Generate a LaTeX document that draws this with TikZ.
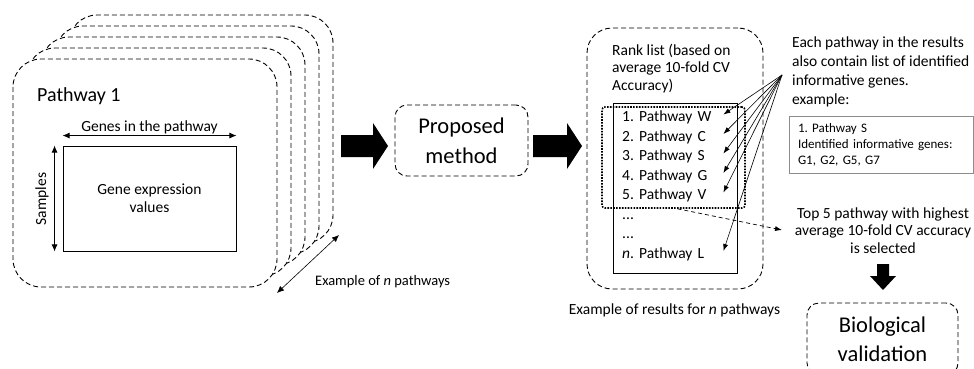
\documentclass[tikz,border=0pt]{standalone}
\usepackage{fontspec}
\setmainfont{Carlito}
\usetikzlibrary{arrows.meta}
\frenchspacing
\begin{document}
\begin{tikzpicture}[x=1pt,y=-1pt,
  card/.style={draw, dash pattern=on 5pt off 3pt, line width=0.9pt, rounded corners=28pt, fill=white},
  dbox/.style={draw, dash pattern=on 5pt off 3pt, line width=0.9pt},
  txt/.style={inner sep=0pt, font=\fontsize{15.5}{19}\selectfont},
  itemtxt/.style={inner sep=0pt, anchor=base west, text width=101pt, align=left, font=\fontsize{15.5}{19}\selectfont},
  thinarrow/.style={line width=0.6pt, -{Latex[length=7pt,width=5pt]}},
  dblarrow/.style={line width=0.8pt, {Latex[length=7pt,width=6pt]}-{Latex[length=7pt,width=6pt]}},
]
\useasboundingbox (0,0) rectangle (974,369);

% stack of pathway cards
\foreach \k in {4,3,2,1,0} {
  \draw[card] ({13+14*\k},{59-11*\k}) rectangle ({277+14*\k},{287-11*\k});
}
\node[inner sep=0pt, anchor=west, font=\fontsize{20}{24}\selectfont] (p1) at (37,96) {Pathway 1};
\node[draw, line width=0.9pt, minimum width=173pt, minimum height=105pt, inner sep=0pt,
      align=center, font=\fontsize{15.5}{18}\selectfont] (mat) at (149.5,198.5) {Gene expression\\values};
\draw[dblarrow] ([yshift=10pt]mat.north west) -- ([yshift=10pt]mat.north east);
\node[txt] (genes) at (149.5,127) {Genes in the pathway};
\draw[dblarrow] ([xshift=-8pt]mat.north west) -- ([xshift=-8pt]mat.south west);
\node[txt, rotate=90] (samples) at (42,199) {Samples};

\coordinate (ea1) at (277,293);
\coordinate (ea2) at (339,235);
\draw[dblarrow, line width=0.6pt] (ea1) -- (ea2);
\node[txt, anchor=west, font=\fontsize{14.5}{18}\selectfont] (exn) at (315,282) {Example of \textit{n} pathways};

% big arrows
\fill (341,135) -- (373,135) -- (373,123) -- (388,146) -- (373,169) -- (373,157) -- (341,157) -- cycle;
\node[dbox, rounded corners=12pt, minimum width=133pt, minimum height=71pt, align=center,
      font=\fontsize{22.5}{30}\selectfont] (pm) at (461.5,140.5) {Proposed\\method};
\fill (533,135) -- (567,135) -- (567,123) -- (582,146) -- (567,169) -- (567,157) -- (533,157) -- cycle;

% rank list
\node[dbox, rounded corners=25pt, minimum width=176pt, minimum height=261pt] (rank) at (675,158.5) {};
\node[txt, anchor=west, align=left, font=\fontsize{15.5}{17.5}\selectfont] (ranktitle) at (612,68.5)
  {Rank list (based on\\average 10-fold CV\\Accuracy)};
\node[draw, line width=0.9pt, minimum width=124pt, minimum height=170pt, inner sep=0pt] (list) at (675,188) {};
\node[draw, line width=1.6pt, dash pattern=on 1.6pt off 1.3pt, rounded corners=3pt,
      minimum width=143pt, minimum height=101pt, inner sep=0pt] (sel) at (673.5,157.5) {};
\node[itemtxt] (i1) at (622,121.5) {1. Pathway W};
\node[itemtxt] (i2) at (622,141) {2. Pathway C};
\node[itemtxt] (i3) at (622,160.5) {3. Pathway S};
\node[itemtxt] (i4) at (622,180) {4. Pathway G};
\node[itemtxt] (i5) at (622,199.5) {5. Pathway V};
\node[itemtxt] (i6) at (622,219) {...};
\node[itemtxt] (i7) at (622,238.5) {...};
\node[itemtxt] (i8) at (622,258) {\textit{n}. Pathway L};
\node[txt] (exr) at (674.5,310) {Example of results for \textit{n} pathways};

\coordinate (src) at (782,75);
\foreach \i in {1,2,3,4,5,8} {
  \draw[thinarrow] (src) -- ([yshift=7pt]i\i.base east);
}

% right side
\node[txt, anchor=west, align=left] (each) at (792,71.5)
  {Each pathway in the results\\also contain list of identified\\informative genes.\\example:};
\node[draw=black!45, line width=0.8pt, minimum width=184pt, minimum height=57pt, inner xsep=9pt,
      text width=166pt, align=left, font=\fontsize{13}{16}\selectfont] (ex) at (881,144.5)
  {1. Pathway S\\Identified informative genes:\\G1, G2, G5, G7};

\node[txt, align=center, font=\fontsize{15.5}{17.5}\selectfont] (top5) at (883,230.5)
  {Top 5 pathway with highest\\average 10-fold CV accuracy\\is selected};
\coordinate (dt) at (782,230);
\draw[line width=0.7pt, dash pattern=on 4pt off 3pt, -{Latex[length=7pt,width=5pt]}] ([xshift=4pt]sel.south) -- (dt);

\fill (877,264) -- (889,264) -- (889,276) -- (896,276) -- (883,290) -- (870,276) -- (877,276) -- cycle;
\node[dbox, rounded corners=12pt, minimum width=151pt, minimum height=72pt, align=center,
      font=\fontsize{22.5}{29}\selectfont] (bio) at (882.5,339) {Biological\\validation};
\end{tikzpicture}
\end{document}
